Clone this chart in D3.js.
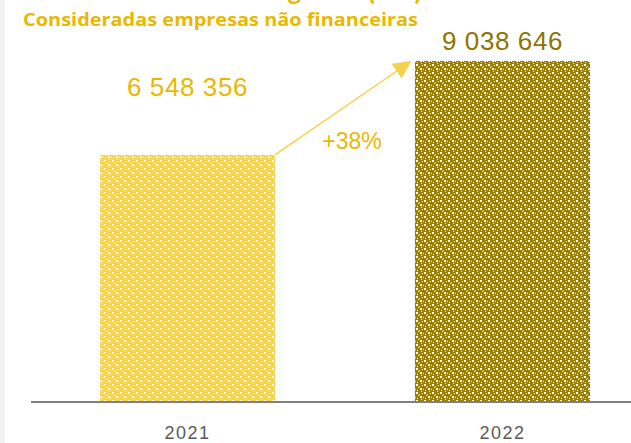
<!DOCTYPE html>
<html>
<head>
<meta charset="utf-8">
<script src="https://cdn.jsdelivr.net/npm/d3@7"></script>
<style>
  html, body { margin: 0; padding: 0; background: #fff; }
  svg { display: block; }
</style>
</head>
<body>
<div id="chart"></div>
<script>
const width = 631;
const height = 443;

const years = ["2021", "2022"];
const values = [6548356, 9038646];
const valueLabels = ["6 548 356", "9 038 646"];
const growthLabel = "+38%";
const barColors = ["#f7d24e", "#9a7d00"];
const labelColors = ["#e9b800", "#8f7400"];

const svg = d3.select("#chart")
  .append("svg")
  .attr("width", width)
  .attr("height", height);

// patterned fills
const defs = svg.append("defs");
barColors.forEach((c, i) => {
  const p = defs.append("pattern")
    .attr("id", "pat" + i)
    .attr("patternUnits", "userSpaceOnUse")
    .attr("width", 8)
    .attr("height", 8);
  p.append("rect").attr("width", 8).attr("height", 8).attr("fill", c);
  [[0, 0, 2, 2], [4, 4, 2, 2], [6, 1, 1, 1], [1, 6, 1, 1], [3, 2, 1, 1], [2, 3, 1, 1], [7, 5, 1, 1], [5, 7, 1, 1]]
    .forEach(r => p.append("rect")
      .attr("x", r[0]).attr("y", r[1])
      .attr("width", r[2]).attr("height", r[3])
      .attr("fill", "#fff"));
});
defs.append("marker")
  .attr("id", "arrowHead")
  .attr("viewBox", "0 0 10 10")
  .attr("refX", 9)
  .attr("refY", 5)
  .attr("markerUnits", "userSpaceOnUse")
  .attr("markerWidth", 20)
  .attr("markerHeight", 18)
  .attr("orient", "auto")
  .append("path")
  .attr("d", "M0,0 L10,5 L0,10 Z")
  .attr("fill", "#f5d24b");

// left grey strip
svg.append("rect")
  .attr("x", 0).attr("y", 0)
  .attr("width", 5).attr("height", height)
  .attr("fill", "#f2f2f2");

// title (cut off at the top, as in the source) and subtitle
svg.append("text")
  .attr("x", 130)
  .attr("y", 0)
  .attr("font-family", "Lato, sans-serif")
  .attr("font-weight", 700)
  .attr("font-size", 26)
  .attr("fill", "#e9b800")
  .text("Volume de negócios (M€)");

svg.append("text")
  .attr("x", 23)
  .attr("y", 26)
  .attr("font-family", "'Open Sans', sans-serif")
  .attr("font-weight", 700)
  .attr("font-size", 17)
  .attr("fill", "#e9b800")
  .attr("textLength", 395)
  .attr("lengthAdjust", "spacingAndGlyphs")
  .text("Consideradas empresas não financeiras");

const xScale = d3.scaleBand()
  .domain(years)
  .range([30, 660])
  .paddingInner(140 / 315)
  .paddingOuter(70 / 315);

const yScale = d3.scaleLinear()
  .domain([0, d3.max(values)])
  .range([402, 61]);

const data = years.map((y, i) => ({ year: y, value: values[i], label: valueLabels[i], i }));

// bars
svg.append("g")
  .selectAll("rect")
  .data(data)
  .join("rect")
  .attr("x", d => xScale(d.year))
  .attr("y", d => yScale(d.value))
  .attr("width", xScale.bandwidth())
  .attr("height", d => yScale(0) - yScale(d.value))
  .attr("fill", d => `url(#pat${d.i})`);

// axis
const xAxis = svg.append("g")
  .attr("transform", `translate(0, ${yScale(0)})`)
  .call(d3.axisBottom(xScale).tickSize(0).tickPadding(24));
xAxis.select(".domain")
  .attr("d", "M31,0H631")
  .attr("stroke", "#808080")
  .attr("stroke-width", 2);
xAxis.selectAll("text")
  .attr("font-family", "'Liberation Sans', sans-serif")
  .attr("font-size", 18)
  .attr("letter-spacing", 1.5)
  .attr("fill", "#595959");

// value labels
svg.append("g")
  .selectAll("text")
  .data(data)
  .join("text")
  .attr("x", d => xScale(d.year) + xScale.bandwidth() / 2)
  .attr("y", d => yScale(d.value) - (d.i === 0 ? 59 : 11))
  .attr("text-anchor", "middle")
  .attr("font-family", "'Liberation Sans', sans-serif")
  .attr("font-size", 26)
  .attr("letter-spacing", 0.6)
  .attr("fill", d => labelColors[d.i])
  .text(d => d.label);

// growth arrow
const x0 = xScale(years[0]) + xScale.bandwidth();
const y0 = yScale(values[0]);
const x1 = xScale(years[1]) - 5;
const y1 = yScale(values[1]) + 1;
svg.append("line")
  .attr("x1", x0).attr("y1", y0)
  .attr("x2", x1).attr("y2", y1)
  .attr("stroke", "#f5d24b")
  .attr("stroke-width", 1.5)
  .attr("marker-end", "url(#arrowHead)");

svg.append("text")
  .attr("x", 352)
  .attr("y", 149)
  .attr("text-anchor", "middle")
  .attr("font-family", "'Liberation Sans', sans-serif")
  .attr("font-size", 23)
  .attr("fill", "#e9b800")
  .text(growthLabel);
</script>
</body>
</html>
